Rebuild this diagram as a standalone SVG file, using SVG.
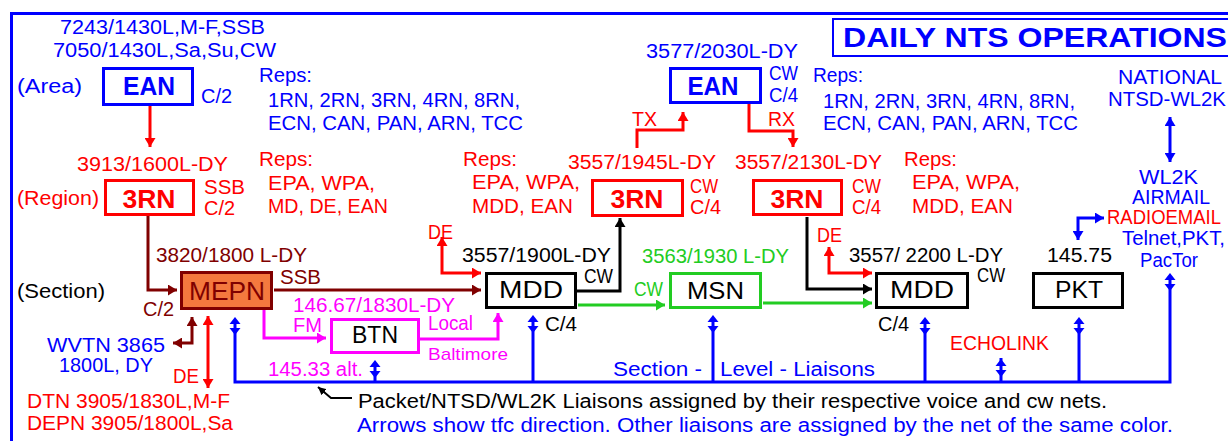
<svg xmlns="http://www.w3.org/2000/svg" width="1228" height="441" viewBox="0 0 1228 441">
<style>
text{font-family:"Liberation Sans",Arial,sans-serif;font-size:20px}
.b{fill:#0000ff}.r{fill:#ff0000}.m{fill:#800000}.k{fill:#000}.g{fill:#22cc22}.p{fill:#ff00ff}
.nb{font-size:25px;font-weight:bold;text-anchor:middle}
.nl{font-size:24px;text-anchor:middle}
.sm{font-size:17px}
.box{stroke-width:3;fill:#fff}
.ln{fill:none;stroke-width:3}
</style>
<defs>
<marker id="mb" viewBox="0 0 10 10" refX="10" refY="5" markerWidth="9" markerHeight="11" markerUnits="userSpaceOnUse" orient="auto-start-reverse" preserveAspectRatio="none"><path d="M0,0L10,5L0,10z" fill="#0000ff"/></marker>
<marker id="mr" viewBox="0 0 10 10" refX="10" refY="5" markerWidth="9" markerHeight="11" markerUnits="userSpaceOnUse" orient="auto-start-reverse" preserveAspectRatio="none"><path d="M0,0L10,5L0,10z" fill="#ff0000"/></marker>
<marker id="mm" viewBox="0 0 10 10" refX="10" refY="5" markerWidth="9" markerHeight="11" markerUnits="userSpaceOnUse" orient="auto-start-reverse" preserveAspectRatio="none"><path d="M0,0L10,5L0,10z" fill="#800000"/></marker>
<marker id="mk" viewBox="0 0 10 10" refX="10" refY="5" markerWidth="9" markerHeight="11" markerUnits="userSpaceOnUse" orient="auto-start-reverse" preserveAspectRatio="none"><path d="M0,0L10,5L0,10z" fill="#000"/></marker>
<marker id="mg" viewBox="0 0 10 10" refX="10" refY="5" markerWidth="9" markerHeight="11" markerUnits="userSpaceOnUse" orient="auto-start-reverse" preserveAspectRatio="none"><path d="M0,0L10,5L0,10z" fill="#22cc22"/></marker>
<marker id="mp" viewBox="0 0 10 10" refX="10" refY="5" markerWidth="9" markerHeight="11" markerUnits="userSpaceOnUse" orient="auto-start-reverse" preserveAspectRatio="none"><path d="M0,0L10,5L0,10z" fill="#ff00ff"/></marker>
<marker id="mks" viewBox="0 0 10 10" refX="10" refY="5" markerWidth="8" markerHeight="8" markerUnits="userSpaceOnUse" orient="auto-start-reverse"><path d="M0,0L10,5L0,10z" fill="#000"/></marker>
<g id="dd" fill="#0000ff"><path d="M0,0L-5.5,7L5.5,7z"/><path d="M-5.5,11L5.5,11L0,18z"/></g>
</defs>

<rect x="11.5" y="13.5" width="1300" height="500" fill="none" stroke="#0000ff" stroke-width="3"/>

<g id="title">
<rect x="833" y="19" width="420" height="37" fill="none" stroke="#0000ff" stroke-width="2"/>
<text x="843" y="47" class="b" style="font-size:28px;font-weight:bold" textLength="384" lengthAdjust="spacingAndGlyphs">DAILY NTS OPERATIONS</text>
</g>

<g id="connectors">
<path class="ln" stroke="#ff0000" d="M150,106V147" marker-end="url(#mr)"/>
<path class="ln" stroke="#800000" d="M148,216V290H177" marker-end="url(#mm)"/>
<path class="ln" stroke="#800000" d="M274,290H481" marker-end="url(#mm)"/>
<path class="ln" stroke="#ff0000" d="M442,237V273H481" marker-start="url(#mr)" marker-end="url(#mr)"/>
<path class="ln" stroke="#000" d="M577,291H620V218" marker-end="url(#mk)"/>
<path class="ln" stroke="#22cc22" d="M578,305H665" marker-end="url(#mg)"/>
<path class="ln" stroke="#22cc22" d="M763,303H872" marker-end="url(#mg)"/>
<path class="ln" stroke="#000" d="M807,217V289H872" marker-end="url(#mk)"/>
<path class="ln" stroke="#ff0000" d="M829,247V273H872" marker-start="url(#mr)" marker-end="url(#mr)"/>
<path class="ln" stroke="#ff0000" d="M637,148V130H683V112" marker-end="url(#mr)"/>
<path class="ln" stroke="#ff0000" d="M749,104V131H793V147" marker-end="url(#mr)"/>
<path class="ln" stroke="#0000ff" d="M1170,117V162" marker-start="url(#mb)" marker-end="url(#mb)"/>
<path class="ln" stroke="#0000ff" d="M1078,240V218H1104" marker-start="url(#mb)" marker-end="url(#mb)"/>
<path class="ln" stroke="#800000" d="M192,317V343H173" marker-start="url(#mm)" marker-end="url(#mm)"/>
<path class="ln" stroke="#ff0000" d="M208,316V388" marker-start="url(#mr)" marker-end="url(#mr)"/>
<path class="ln" stroke="#ff00ff" d="M264,310V338H326" marker-end="url(#mp)"/>
<path class="ln" stroke="#ff00ff" d="M420,339H498V313" marker-end="url(#mp)"/>
<path class="ln" stroke="#0000ff" d="M235,320V382H1170V276"/>
<path class="ln" stroke="#0000ff" d="M533,318V382M713,318V382M925,320V382M1079,320V382M375,363V382M1001,358V382"/>
<use href="#dd" x="235" y="317"/>
<use href="#dd" x="533" y="315"/>
<use href="#dd" x="713" y="315"/>
<use href="#dd" x="925" y="317"/>
<use href="#dd" x="1079" y="317"/>
<use href="#dd" x="1170" y="273"/>
<use href="#dd" x="375" y="360"/>
<use href="#dd" x="1001" y="359"/>
<path fill="none" stroke="#000" stroke-width="2" d="M318,387L331,398H352" marker-start="url(#mks)"/>
</g>

<g id="ean-area">
<text x="60" y="34" class="b" textLength="205" lengthAdjust="spacingAndGlyphs">7243/1430L,M-F,SSB</text>
<text x="53" y="57" class="b" textLength="223" lengthAdjust="spacingAndGlyphs">7050/1430L,Sa,Su,CW</text>
<text x="17" y="93" class="b" textLength="65" lengthAdjust="spacingAndGlyphs">(Area)</text>
<rect class="box" x="103.5" y="68.5" width="89" height="36" stroke="#0000ff"/>
<text x="149" y="95" class="b nb" textLength="52" lengthAdjust="spacingAndGlyphs">EAN</text>
<text x="201" y="103" class="b" textLength="31" lengthAdjust="spacingAndGlyphs">C/2</text>
<text x="259" y="82" class="b" textLength="53" lengthAdjust="spacingAndGlyphs">Reps:</text>
<text x="268" y="107" class="b" textLength="252" lengthAdjust="spacingAndGlyphs">1RN, 2RN, 3RN, 4RN, 8RN,</text>
<text x="268" y="130" class="b" textLength="255" lengthAdjust="spacingAndGlyphs">ECN, CAN, PAN, ARN, TCC</text>
</g>

<g id="rn3-region">
<text x="77" y="171" class="r" textLength="151" lengthAdjust="spacingAndGlyphs">3913/1600L-DY</text>
<text x="17" y="205" class="r" textLength="82" lengthAdjust="spacingAndGlyphs">(Region)</text>
<rect class="box" x="105.5" y="180.5" width="88" height="34" stroke="#ff0000"/>
<text x="149" y="208" class="r nb" textLength="53" lengthAdjust="spacingAndGlyphs">3RN</text>
<text x="204" y="194" class="r" textLength="41" lengthAdjust="spacingAndGlyphs">SSB</text>
<text x="204" y="215" class="r" textLength="31" lengthAdjust="spacingAndGlyphs">C/2</text>
<text x="259" y="166" class="r" textLength="54" lengthAdjust="spacingAndGlyphs">Reps:</text>
<text x="268" y="190" class="r" textLength="107" lengthAdjust="spacingAndGlyphs">EPA, WPA,</text>
<text x="268" y="213" class="r" textLength="120" lengthAdjust="spacingAndGlyphs">MD, DE, EAN</text>
</g>

<g id="ean-cw">
<text x="646" y="58" class="b" textLength="152" lengthAdjust="spacingAndGlyphs">3577/2030L-DY</text>
<rect class="box" x="670.5" y="68.5" width="90" height="34" stroke="#0000ff"/>
<text x="713" y="95" class="b nb" textLength="51" lengthAdjust="spacingAndGlyphs">EAN</text>
<text x="769" y="80" class="b" textLength="29" lengthAdjust="spacingAndGlyphs">CW</text>
<text x="769" y="102" class="b" textLength="29" lengthAdjust="spacingAndGlyphs">C/4</text>
<text x="632" y="126" class="r" textLength="25" lengthAdjust="spacingAndGlyphs">TX</text>
<text x="768" y="126" class="r" textLength="27" lengthAdjust="spacingAndGlyphs">RX</text>
<text x="813" y="82" class="b" textLength="50" lengthAdjust="spacingAndGlyphs">Reps:</text>
<text x="823" y="108" class="b" textLength="252" lengthAdjust="spacingAndGlyphs">1RN, 2RN, 3RN, 4RN, 8RN,</text>
<text x="823" y="130" class="b" textLength="255" lengthAdjust="spacingAndGlyphs">ECN, CAN, PAN, ARN, TCC</text>
</g>

<g id="rn3-tx">
<text x="463" y="166" class="r" textLength="54" lengthAdjust="spacingAndGlyphs">Reps:</text>
<text x="472" y="189" class="r" textLength="108" lengthAdjust="spacingAndGlyphs">EPA, WPA,</text>
<text x="472" y="213" class="r" textLength="101" lengthAdjust="spacingAndGlyphs">MDD, EAN</text>
<text x="568" y="169" class="r" textLength="148" lengthAdjust="spacingAndGlyphs">3557/1945L-DY</text>
<rect class="box" x="592.5" y="180.5" width="90" height="35" stroke="#ff0000"/>
<text x="637" y="208" class="r nb" textLength="53" lengthAdjust="spacingAndGlyphs">3RN</text>
<text x="690" y="193" class="r" textLength="28" lengthAdjust="spacingAndGlyphs">CW</text>
<text x="690" y="214" class="r" textLength="31" lengthAdjust="spacingAndGlyphs">C/4</text>
</g>

<g id="rn3-rx">
<text x="735" y="169" class="r" textLength="147" lengthAdjust="spacingAndGlyphs">3557/2130L-DY</text>
<rect class="box" x="753.5" y="180.5" width="88" height="34" stroke="#ff0000"/>
<text x="797" y="208" class="r nb" textLength="53" lengthAdjust="spacingAndGlyphs">3RN</text>
<text x="852" y="193" class="r" textLength="29" lengthAdjust="spacingAndGlyphs">CW</text>
<text x="852" y="214" class="r" textLength="29" lengthAdjust="spacingAndGlyphs">C/4</text>
<text x="904" y="166" class="r" textLength="53" lengthAdjust="spacingAndGlyphs">Reps:</text>
<text x="912" y="189" class="r" textLength="108" lengthAdjust="spacingAndGlyphs">EPA, WPA,</text>
<text x="912" y="213" class="r" textLength="101" lengthAdjust="spacingAndGlyphs">MDD, EAN</text>
</g>

<g id="national">
<text x="1118" y="84" class="b" textLength="104" lengthAdjust="spacingAndGlyphs">NATIONAL</text>
<text x="1108" y="106" class="b" textLength="118" lengthAdjust="spacingAndGlyphs">NTSD-WL2K</text>
<text x="1139" y="184" class="b" textLength="59" lengthAdjust="spacingAndGlyphs">WL2K</text>
<text x="1132" y="204" class="b" textLength="78" lengthAdjust="spacingAndGlyphs">AIRMAIL</text>
<text x="1107" y="224" class="r" textLength="114" lengthAdjust="spacingAndGlyphs">RADIOEMAIL</text>
<text x="1122" y="245" class="b" textLength="103" lengthAdjust="spacingAndGlyphs">Telnet,PKT,</text>
<text x="1140" y="267" class="b" textLength="58" lengthAdjust="spacingAndGlyphs">PacTor</text>
</g>

<g id="mepn">
<text x="17" y="298" class="k" textLength="88" lengthAdjust="spacingAndGlyphs">(Section)</text>
<text x="156" y="262" class="m" textLength="151" lengthAdjust="spacingAndGlyphs">3820/1800 L-DY</text>
<rect x="181.5" y="272.5" width="90" height="36" fill="#f4793e" stroke="#800000" stroke-width="3"/>
<text x="227" y="300" class="m nl" style="font-size:26px" textLength="76" lengthAdjust="spacingAndGlyphs">MEPN</text>
<text x="280" y="284" class="m" textLength="41" lengthAdjust="spacingAndGlyphs">SSB</text>
<text x="143" y="316" class="m" textLength="31" lengthAdjust="spacingAndGlyphs">C/2</text>
</g>

<g id="mepn-liaisons">
<text x="47" y="352" class="b" textLength="118" lengthAdjust="spacingAndGlyphs">WVTN 3865</text>
<text x="59" y="372" class="b" textLength="94" lengthAdjust="spacingAndGlyphs">1800L, DY</text>
<text x="173" y="383" class="r" textLength="26" lengthAdjust="spacingAndGlyphs">DE</text>
<text x="27" y="408" class="r" textLength="203" lengthAdjust="spacingAndGlyphs">DTN 3905/1830L,M-F</text>
<text x="27" y="430" class="r" textLength="206" lengthAdjust="spacingAndGlyphs">DEPN 3905/1800L,Sa</text>
</g>

<g id="btn">
<text x="293" y="312" class="p" textLength="162" lengthAdjust="spacingAndGlyphs">146.67/1830L-DY</text>
<text x="293" y="332" class="p" textLength="29" lengthAdjust="spacingAndGlyphs">FM</text>
<rect class="box" x="331.5" y="319.5" width="87" height="33" stroke="#ff00ff"/>
<text x="375" y="343" class="k nl" textLength="46" lengthAdjust="spacingAndGlyphs">BTN</text>
<text x="428" y="330" class="p" textLength="45" lengthAdjust="spacingAndGlyphs">Local</text>
<text x="428" y="360" class="p sm" textLength="80" lengthAdjust="spacingAndGlyphs">Baltimore</text>
<text x="268" y="376" class="p" textLength="95" lengthAdjust="spacingAndGlyphs">145.33 alt.</text>
</g>

<g id="mdd1">
<text x="428" y="239" class="r" textLength="25" lengthAdjust="spacingAndGlyphs">DE</text>
<text x="462" y="262" class="k" textLength="149" lengthAdjust="spacingAndGlyphs">3557/1900L-DY</text>
<rect class="box" x="486.5" y="273.5" width="89" height="34" stroke="#000"/>
<text x="531" y="298" class="k nl" textLength="64" lengthAdjust="spacingAndGlyphs">MDD</text>
<text x="584" y="283" class="k" textLength="29" lengthAdjust="spacingAndGlyphs">CW</text>
<text x="545" y="331" class="k" textLength="32" lengthAdjust="spacingAndGlyphs">C/4</text>
</g>

<g id="msn">
<text x="642" y="263" class="g" textLength="147" lengthAdjust="spacingAndGlyphs">3563/1930 L-DY</text>
<text x="634" y="296" class="g" textLength="29" lengthAdjust="spacingAndGlyphs">CW</text>
<rect class="box" x="670.5" y="273.5" width="90" height="34" stroke="#22cc22"/>
<text x="715.5" y="299" class="k nl" textLength="57" lengthAdjust="spacingAndGlyphs">MSN</text>
</g>

<g id="mdd2">
<text x="817" y="242" class="r" textLength="25" lengthAdjust="spacingAndGlyphs">DE</text>
<text x="849" y="262" class="k" textLength="154" lengthAdjust="spacingAndGlyphs">3557/ 2200 L-DY</text>
<rect class="box" x="876.5" y="273.5" width="91" height="34" stroke="#000"/>
<text x="922" y="298" class="k nl" textLength="64" lengthAdjust="spacingAndGlyphs">MDD</text>
<text x="977" y="282" class="k" textLength="28" lengthAdjust="spacingAndGlyphs">CW</text>
<text x="878" y="331" class="k" textLength="31" lengthAdjust="spacingAndGlyphs">C/4</text>
</g>

<g id="pkt">
<text x="1047" y="262" class="k" textLength="65" lengthAdjust="spacingAndGlyphs">145.75</text>
<rect class="box" x="1033.5" y="273.5" width="89" height="34" stroke="#000"/>
<text x="1079" y="298" class="k nl" textLength="48" lengthAdjust="spacingAndGlyphs">PKT</text>
</g>

<g id="bus-labels">
<text x="613" y="376" class="b" textLength="89" lengthAdjust="spacingAndGlyphs">Section -</text>
<text x="720" y="376" class="b" textLength="155" lengthAdjust="spacingAndGlyphs">Level - Liaisons</text>
<text x="950" y="350" class="r" textLength="99" lengthAdjust="spacingAndGlyphs">ECHOLINK</text>
<text x="358" y="408" class="k" textLength="749" lengthAdjust="spacingAndGlyphs">Packet/NTSD/WL2K Liaisons assigned by their respective voice and cw nets.</text>
<text x="357" y="432" class="b" textLength="816" lengthAdjust="spacingAndGlyphs">Arrows show tfc direction. Other liaisons are assigned by the net of the same color.</text>
</g>
</svg>
